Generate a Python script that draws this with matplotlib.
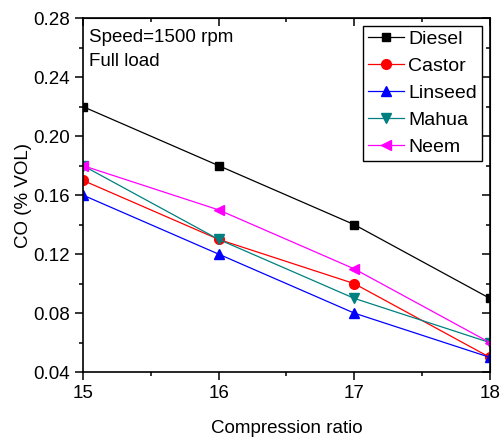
import matplotlib
matplotlib.use("Agg")
import matplotlib.pyplot as plt
from matplotlib.ticker import MultipleLocator

plt.rcParams['font.family'] = ['Liberation Sans', 'DejaVu Sans']

ratio = [15, 16, 17, 18]
diesel = [0.22, 0.18, 0.14, 0.09]
castor = [0.17, 0.13, 0.10, 0.05]
linseed = [0.16, 0.12, 0.08, 0.05]
mahua = [0.18, 0.13, 0.09, 0.06]
neem = [0.18, 0.15, 0.11, 0.06]
yticks = [0.04, 0.08, 0.12, 0.16, 0.20, 0.24, 0.28]

fig = plt.figure(figsize=(5.03, 4.43), dpi=100)
ax = fig.add_axes([0.165, 0.160, 0.809, 0.799])

ax.plot(ratio, diesel, color='black', marker='s', ms=6, lw=0.9, label='Diesel')
ax.plot(ratio, castor, color='red', marker='o', ms=7, lw=0.9, label='Castor')
ax.plot(ratio, linseed, color='blue', marker='^', ms=7, lw=0.9, label='Linseed')
ax.plot(ratio, mahua, color='#008080', marker='v', ms=7, lw=0.9, label='Mahua')
ax.plot(ratio, neem, color='#FF00FF', marker='<', ms=7, lw=0.9, label='Neem')

ax.set_xlim(15, 18)
ax.set_ylim(0.04, 0.28)
ax.set_xticks(ratio)
ax.set_yticks(yticks)
ax.set_yticklabels(['%.2f' % v for v in yticks])
ax.xaxis.set_minor_locator(MultipleLocator(0.5))
ax.yaxis.set_minor_locator(MultipleLocator(0.02))

for s in ax.spines.values():
    s.set_linewidth(1.2)
ax.tick_params(which='both', direction='out', top=False, right=False, labelsize=13.5, width=1.1)
ax.tick_params(which='major', length=6)
ax.tick_params(which='minor', length=3)

# mirrored inner ticks on top / right
sec_x = ax.secondary_xaxis('top')
sec_x.set_xticks(ratio)
sec_x.xaxis.set_minor_locator(MultipleLocator(0.5))
sec_x.tick_params(which='both', direction='in', labeltop=False, width=1.1)
sec_x.tick_params(which='major', length=6)
sec_x.tick_params(which='minor', length=3)
sec_x.set_xticklabels([])
sec_y = ax.secondary_yaxis('right')
sec_y.set_yticks(yticks)
sec_y.yaxis.set_minor_locator(MultipleLocator(0.02))
sec_y.tick_params(which='both', direction='in', labelright=False, width=1.1)
sec_y.tick_params(which='major', length=6)
sec_y.tick_params(which='minor', length=3)
sec_y.set_yticklabels([])

ax.set_xlabel('Compression ratio', fontsize=13.5, labelpad=13)
ax.set_ylabel('CO (% VOL)', fontsize=13.5, labelpad=1)

ax.text(0.015, 0.97, 'Speed=1500 rpm\nFull load', transform=ax.transAxes,
        fontsize=13.5, va='top', ha='left', linespacing=1.55)

leg = ax.legend(loc='upper right', bbox_to_anchor=(0.99, 0.99), fontsize=14,
                fancybox=False, edgecolor='black', framealpha=1,
                handlelength=1.9, handletextpad=0.2, labelspacing=0.48,
                borderpad=0.25, borderaxespad=0.2)
leg.get_frame().set_linewidth(1.0)

fig.savefig('out.png', dpi=100)
